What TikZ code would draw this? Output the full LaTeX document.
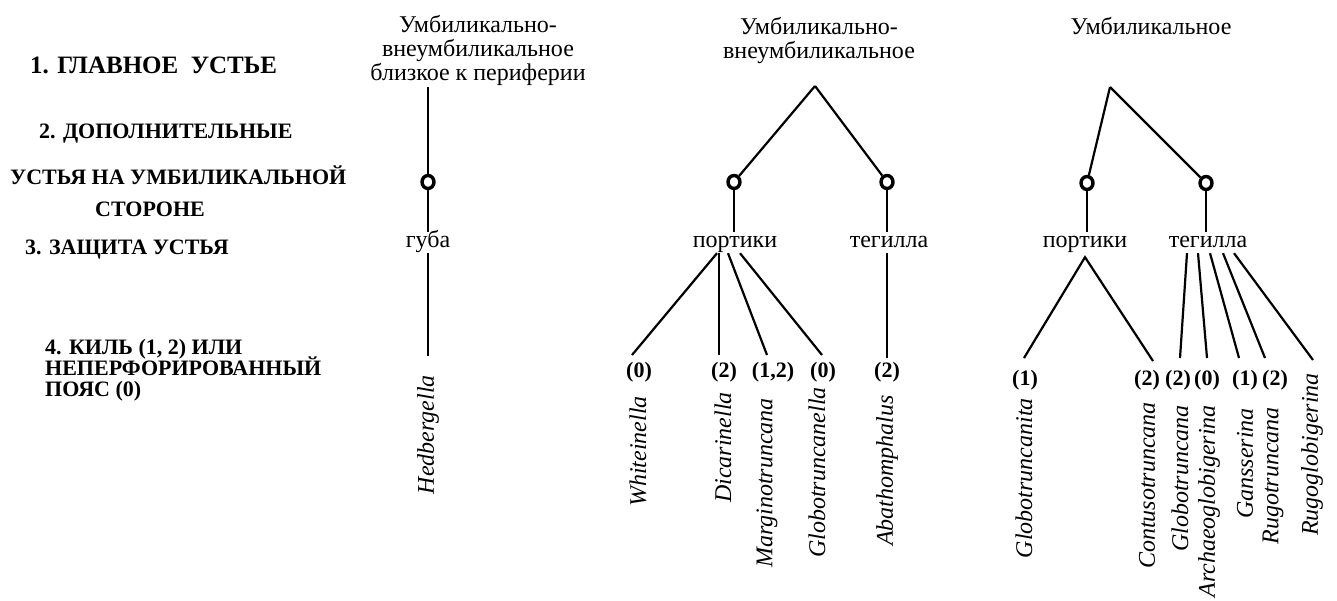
\documentclass[tikz,border=0pt]{standalone}
\usepackage{fontspec}
\setmainfont{Liberation Serif}
\newfontfamily\taxfont{LiberationSerif-Italic.ttf}
\newfontfamily\critfont{LiberationSerif-Bold.ttf}
\usetikzlibrary{shapes.geometric}
\tikzset{
  ln/.style={line width=2.2pt},
  omark/.style={draw, ellipse, line width=3.4pt, minimum width=12pt, minimum height=13pt, inner sep=0pt},
  hdr/.style={font=\fontsize{24}{24}\selectfont, align=center, inner sep=0pt, anchor=north},
  prot/.style={font=\fontsize{24}{24}\selectfont, inner sep=0pt, text height=16pt, text depth=5pt, anchor=base},
  crit/.style={font=\fontsize{22}{22}\selectfont, execute at begin node=\critfont, inner sep=0pt, anchor=base west},
  critbig/.style={font=\fontsize{25}{25}\selectfont, execute at begin node=\critfont, inner sep=0pt, anchor=base west},
  keel/.style={font=\fontsize{22}{22}\selectfont, execute at begin node=\critfont, inner sep=0pt},
  taxon/.style={font=\fontsize{24}{24}\selectfont, execute at begin node=\taxfont, rotate=90, anchor=east, inner sep=0pt}
}
\begin{document}
\begin{tikzpicture}[x=1pt,y=-1pt]
\useasboundingbox (0,0) rectangle (1337,601);

% criteria column
\node[critbig] (c1) at (30,74) {1. ГЛАВНОЕ\ \ УСТЬЕ};
\node[crit] (c2a) at (39,139) {2. ДОПОЛНИТЕЛЬНЫЕ};
\node[crit] (c2b) at (10,185) {УСТЬЯ НА УМБИЛИКАЛЬНОЙ};
\node[crit] (c2c) at (95,217) {СТОРОНЕ};
\node[crit] (c3) at (25,255) {3. ЗАЩИТА УСТЬЯ};
\node[crit] (c4a) at (45,354) {4. КИЛЬ (1, 2) ИЛИ};
\node[crit] (c4b) at (45,375) {НЕПЕРФОРИРОВАННЫЙ};
\node[crit] (c4c) at (45,396) {ПОЯС (0)};

% column 1
\node[hdr] (h1) at (478,15) {Умбиликально-\\внеумбиликальное\\близкое к периферии};
\coordinate (top1) at (428,87);
\node[omark] (o1) at (428,182) {};
\node[prot] (g1) at (428,248) {губа};
\coordinate (end1) at (428,356);
\node[taxon] (t-hed) at (428,375) {Hedbergella};
\draw[ln] (top1) -- (o1);
\draw[ln] (o1) -- (o1 |- g1.north);
\draw[ln] (o1 |- g1.south) -- (end1);

% column 2
\node[hdr] (h2) at (819,17) {Умбиликально-\\внеумбиликальное};
\coordinate (a2) at (815,86);
\node[omark] (o2l) at (734,182) {};
\node[omark] (o2r) at (887,182) {};
\node[prot] (p2) at (735,248) {портики};
\node[prot] (t2) at (889,248) {тегилла};
\draw[ln] (a2) -- (o2l);
\draw[ln] (a2) -- (o2r);
\draw[ln] (o2l) -- (o2l |- p2.north);
\draw[ln] (o2r) -- (o2r |- t2.north);
\coordinate (e-whi) at (632,355);
\coordinate (e-dic) at (719,355);
\coordinate (e-mar) at (767,355);
\coordinate (e-glc) at (822,355);
\coordinate (e-aba) at (887,358);
\draw[ln] ([xshift=-18pt]p2.south) -- (e-whi);
\draw[ln] ([xshift=-16pt]p2.south) -- (e-dic);
\draw[ln] ([xshift=-7pt]p2.south) -- (e-mar);
\draw[ln] ([xshift=5pt]p2.south) -- (e-glc);
\draw[ln] (o2r |- t2.south) -- (e-aba);
\node[keel] (k-whi) at (639,372) {(0)};
\node[keel] (k-dic) at (724,372) {(2)};
\node[keel] (k-mar) at (773,372) {(1,2)};
\node[keel] (k-glc) at (823,372) {(0)};
\node[keel] (k-aba) at (887,372) {(2)};
\node[taxon] (t-whi) at (638,396) {Whiteinella};
\node[taxon] (t-dic) at (723,392) {Dicarinella};
\node[taxon] (t-mar) at (767,398) {Marginotruncana};
\node[taxon] (t-glc) at (817,387) {Globotruncanella};
\node[taxon] (t-aba) at (887,395) {Abathomphalus};

% column 3
\node[hdr] (h3) at (1151,17) {Умбиликальное};
\coordinate (a3) at (1110,87);
\node[omark] (o3l) at (1087,183) {};
\node[omark] (o3r) at (1206,183) {};
\node[prot] (p3) at (1085,248) {портики};
\node[prot] (t3) at (1208,248) {тегилла};
\draw[ln] (a3) -- (o3l);
\draw[ln] (a3) -- (o3r);
\draw[ln] (o3l) -- (o3l |- p3.north);
\draw[ln] (o3r) -- (o3r |- t3.north);
\coordinate (e-gta) at (1024,358);
\coordinate (e-con) at (1153,361);
\coordinate (e-glo) at (1180,358);
\coordinate (e-arc) at (1207,358);
\coordinate (e-gan) at (1239,358);
\coordinate (e-rtr) at (1265,358);
\coordinate (e-rgl) at (1313,360);
\draw[ln] (e-gta) -- ([yshift=-4pt]p3.south) -- (e-con);
\draw[ln] ([xshift=-21pt]t3.south) -- (e-glo);
\draw[ln] ([xshift=-10pt]t3.south) -- (e-arc);
\draw[ln] ([xshift=2pt]t3.south) -- (e-gan);
\draw[ln] ([xshift=15pt]t3.south) -- (e-rtr);
\draw[ln] ([xshift=26pt]t3.south) -- (e-rgl);
\node[keel] (k-gta) at (1025,380) {(1)};
\node[keel] (k-con) at (1147,380) {(2)};
\node[keel] (k-glo) at (1178,380) {(2)};
\node[keel] (k-arc) at (1207,380) {(0)};
\node[keel] (k-gan) at (1245,380) {(1)};
\node[keel] (k-rtr) at (1275,380) {(2)};
\node[taxon] (t-gta) at (1024,398) {Globotruncanita};
\node[taxon] (t-con) at (1147,402) {Contusotruncana};
\node[taxon] (t-glo) at (1180,405) {Globotruncana};
\node[taxon] (t-arc) at (1209,405) {Archaeoglobigerina};
\node[taxon] (t-gan) at (1245,408) {Gansserina};
\node[taxon] (t-rtr) at (1273,407) {Rugotruncana};
\node[taxon] (t-rgl) at (1312,373) {Rugoglobigerina};
\end{tikzpicture}
\end{document}
